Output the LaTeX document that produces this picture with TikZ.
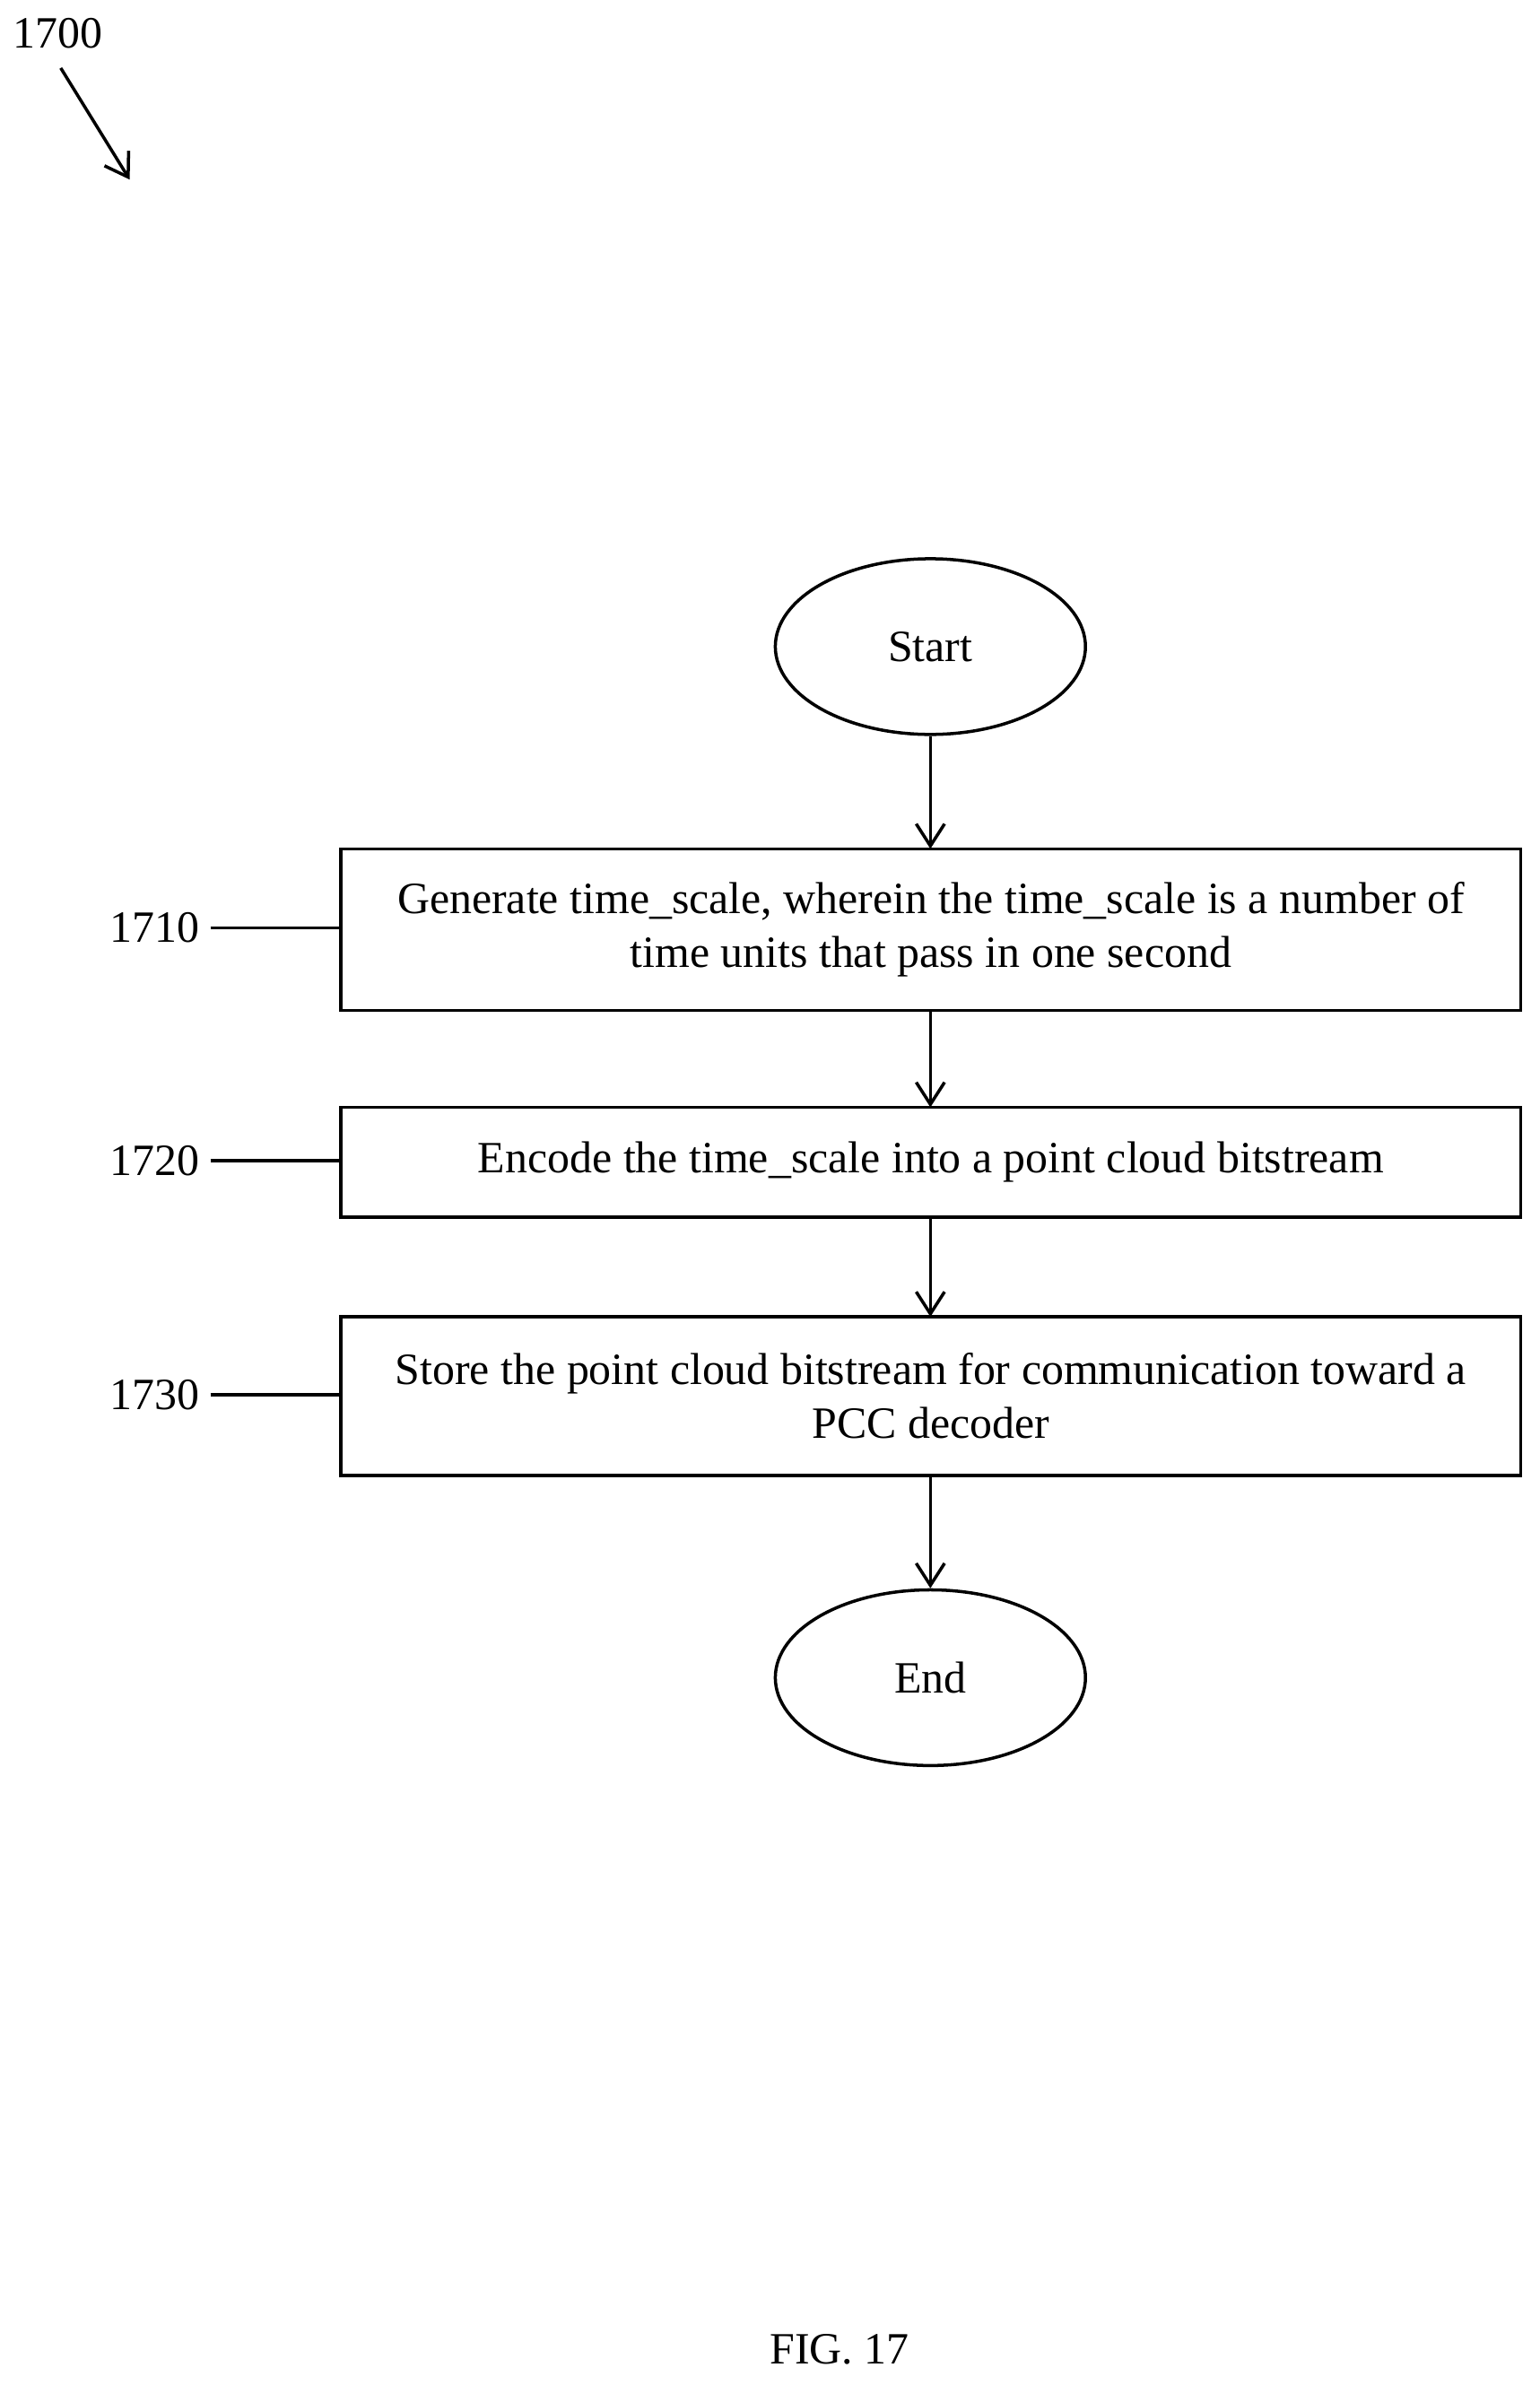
\documentclass[tikz,border=0pt]{standalone}
\usepackage{fontspec}
\setmainfont{Liberation Serif}
\usetikzlibrary{shapes.geometric,arrows.meta}
\begin{document}
\begin{tikzpicture}[x=0.01011cm,y=-0.01011cm,
  every node/.style={font=\fontsize{14.2}{17}\selectfont},
  oval/.style={draw,ellipse,line width=1pt,minimum width=3.46cm,minimum height=1.96cm,inner sep=0pt},
  arr/.style={-{Straight Barb[length=7pt,width=9pt]},line width=1pt},
  lead/.style={line width=1pt}]
\useasboundingbox (0,0) rectangle (1698,2630);
\node (fig) at (64,37) {1700};
\coordinate (a1) at (67,75); \coordinate (a2) at (143,198);
\draw[arr] (a1) -- (a2);
\node[oval] (start) at (1026,713) {Start};
\draw[line width=1pt] (376,936) rectangle (1677,1114);
\node[align=center] (b1) at (1026.5,1025) {Generate time\_scale, wherein the time\_scale is a number of\\time units that pass in one second};
\draw[line width=1pt] (376,1221) rectangle (1677,1342);
\node (b2) at (1026.5,1281) {Encode the time\_scale into a point cloud bitstream};
\draw[line width=1pt] (376,1452) rectangle (1677,1627);
\node[align=center] (b3) at (1026.5,1539) {Store the point cloud bitstream for communication toward a\\PCC decoder};
\node[oval] (end) at (1026,1850) {End};
\coordinate (t1) at (1026,1114); \coordinate (i2) at (1026,1221);
\coordinate (t2) at (1026,1342); \coordinate (i3) at (1026,1452);
\coordinate (t3) at (1026,1627); \coordinate (i1) at (1026,936);
\draw[arr] (start) -- (i1);
\draw[arr] (t1) -- (i2);
\draw[arr] (t2) -- (i3);
\draw[arr] (t3) -- (end);
\node[anchor=east] (l1) at (232,1023) {1710};
\node[anchor=east] (l2) at (232,1280) {1720};
\node[anchor=east] (l3) at (232,1538) {1730};
\coordinate (e1) at (376,1023); \coordinate (e2) at (376,1280); \coordinate (e3) at (376,1538);
\draw[lead] (l1.east) -- (e1);
\draw[lead] (l2.east) -- (e2);
\draw[lead] (l3.east) -- (e3);
\node (cap) at (926,2591) {FIG. 17};
\end{tikzpicture}
\end{document}
